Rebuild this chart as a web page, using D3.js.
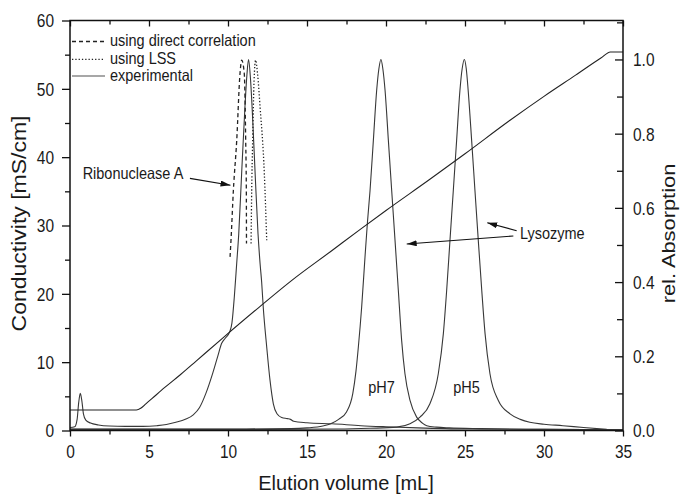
<!DOCTYPE html>
<html><head><meta charset="utf-8">
<script src="https://cdn.jsdelivr.net/npm/d3@7"></script>
<style>
body{margin:0;background:#fff}
svg{display:block}
text{font-family:"Liberation Sans", Arial, Helvetica, sans-serif; fill:#1a1a1a}
</style>
</head><body>
<svg id="chart" width="682" height="494"></svg>
<script>
// ---------- data ----------
// Conductivity gradient (left axis, mS/cm)
const gradVol  = [0, 4.2, 4.5, 4.8, 5.2, 6, 7, 8, 9.7, 12, 14, 16.5, 18.35, 20, 22.8, 25, 27.85, 30, 32, 33.6, 34.2, 35];
const gradCond = [3.0, 3.0, 3.3, 3.9, 4.7, 6.3, 8.2, 10.2, 13.6, 18.1, 21.9, 26.2, 29.4, 32.2, 36.8, 40.5, 45.4, 48.9, 52.0, 54.5, 55.4, 55.4];

// Ribonuclease A experimental run (right axis, rel. absorption)
const rnaseVol = [0, 0.3, 0.45, 0.55, 0.65, 0.75, 0.85, 1.0, 1.3, 1.8, 2.5, 3.5, 4.6, 5.5, 6.1, 6.7, 7.3, 7.8, 8.2, 8.6, 9.0, 9.35, 9.6, 9.85, 10.1, 10.25, 10.4, 10.55, 10.68, 10.86, 11.07, 11.2, 11.3, 11.42, 11.55, 11.72, 11.9, 12.03, 12.13, 12.23, 12.45, 12.66, 12.87, 13.1, 13.4, 13.75, 13.95, 14.15, 15.0, 16.6, 18.4, 20.0, 22.0, 25, 30, 35];
const rnaseAbs = [0.008, 0.010, 0.03, 0.075, 0.100, 0.08, 0.045, 0.028, 0.020, 0.015, 0.012, 0.011, 0.011, 0.013, 0.016, 0.022, 0.030, 0.042, 0.062, 0.10, 0.15, 0.20, 0.235, 0.25, 0.265, 0.29, 0.36, 0.45, 0.53, 0.69, 0.87, 0.96, 1.0, 0.95, 0.85, 0.69, 0.53, 0.45, 0.40, 0.333, 0.225, 0.135, 0.072, 0.045, 0.035, 0.032, 0.030, 0.025, 0.021, 0.018, 0.013, 0.010, 0.007, 0.004, 0.003, 0.002];

// Ribonuclease A peak, simulated using direct correlation (dashed)
const directVol = [10.13, 10.19, 10.34, 10.55, 10.76, 10.87, 11.03, 11.12, 11.16, 11.17];
const directAbs = [0.468, 0.513, 0.647, 0.78, 0.962, 0.998, 0.962, 0.78, 0.647, 0.504];

// Ribonuclease A peak, simulated using LSS (dotted)
const lssVol = [11.46, 11.5, 11.56, 11.65, 11.75, 11.87, 12.03, 12.3, 12.45];
const lssAbs = [0.504, 0.647, 0.78, 0.944, 0.998, 0.962, 0.872, 0.692, 0.513];

// Lysozyme pH 7 run
const ph7Vol = [0, 5, 10, 14, 15.0, 16.0, 16.5, 17.0, 17.5, 17.9, 18.1, 18.25, 18.46, 18.67, 18.82, 18.99, 19.2, 19.41, 19.55, 19.68, 19.8, 19.94, 20.15, 20.36, 20.57, 20.78, 20.99, 21.2, 21.52, 21.94, 22.3, 22.58, 23.2, 24, 26, 30, 35];
const ph7Abs = [0.004, 0.004, 0.004, 0.005, 0.007, 0.012, 0.018, 0.030, 0.050, 0.10, 0.16, 0.225, 0.333, 0.467, 0.558, 0.647, 0.782, 0.917, 0.975, 1.0, 0.975, 0.917, 0.782, 0.647, 0.513, 0.378, 0.243, 0.153, 0.081, 0.036, 0.020, 0.013, 0.009, 0.007, 0.005, 0.003, 0.002];

// Lysozyme pH 5 run
const ph5Vol = [0, 10, 17, 19, 20.68, 21.52, 22.15, 22.78, 23.31, 23.63, 23.84, 24.05, 24.26, 24.47, 24.68, 24.82, 24.96, 25.08, 25.2, 25.42, 25.63, 25.84, 26.06, 26.27, 26.58, 27.11, 27.85, 28.5, 29.1, 30, 31.2, 32.5, 33.97];
const ph5Abs = [0.003, 0.003, 0.004, 0.006, 0.009, 0.018, 0.036, 0.072, 0.153, 0.261, 0.378, 0.513, 0.647, 0.782, 0.917, 0.975, 1.0, 0.975, 0.917, 0.782, 0.647, 0.513, 0.378, 0.261, 0.153, 0.081, 0.045, 0.030, 0.022, 0.017, 0.013, 0.008, 0.003];

// Axis ticks
const xMajor = [0, 5, 10, 15, 20, 25, 30, 35];
const xMinor = [2.5, 7.5, 12.5, 17.5, 22.5, 27.5, 32.5];
const yLMajor = [0, 10, 20, 30, 40, 50, 60];
const yLMinor = [5, 15, 25, 35, 45, 55];
const yRMajor = [0, 0.2, 0.4, 0.6, 0.8, 1.0];
const yRMinor = [0.1, 0.3, 0.5, 0.7, 0.9, 1.1];

// Legend
const legendLabels = ["using direct correlation", "using LSS", "experimental"];

// Annotations (volume mL, conductivity mS/cm)
const annoTexts = [
  {t: "Ribonuclease A", v: 0.80, c: 36.8},
  {t: "Lysozyme", v: 28.48, c: 28.0},
  {t: "pH7", v: 18.88, c: 5.5},
  {t: "pH5", v: 24.26, c: 5.5}
];
const annoArrows = [
  {v1: 7.59, c1: 36.9, v2: 10.16, c2: 35.9},
  {v1: 28.27, c1: 29.24, v2: 26.41, c2: 30.41},
  {v1: 28.06, c1: 28.46, v2: 21.31, c2: 27.29}
];

// ---------- drawing ----------
const svg = d3.select("#chart");
const M = {l: 70, r: 623, t: 20.5, b: 430.5};
const SY = 1.15; // vertical stretch of the glyphs in the reference

const x  = d3.scaleLinear().domain([0, 35]).range([M.l, M.r]);
const yL = d3.scaleLinear().domain([0, 60]).range([M.b, M.t]);
const yR = d3.scaleLinear().domain([0, 1.105]).range([M.b, M.t]);

const defs = svg.append("defs");
defs.append("marker").attr("id", "ah").attr("viewBox", "0 0 10 6")
  .attr("refX", 10).attr("refY", 3).attr("markerWidth", 10).attr("markerHeight", 6)
  .attr("markerUnits", "userSpaceOnUse").attr("orient", "auto")
  .append("path").attr("d", "M0,0L10,3L0,6Z").attr("fill", "#111");

const lineR = d3.line().x(d => x(d[0])).y(d => yR(d[1])).curve(d3.curveMonotoneX);
const lineL = d3.line().x(d => x(d[0])).y(d => yL(d[1])).curve(d3.curveMonotoneX);

const plot = svg.append("g");
const curveColor = "#383838";
plot.append("path").datum(d3.zip(ph7Vol, ph7Abs)).attr("d", lineR)
  .attr("fill", "none").attr("stroke", curveColor).attr("stroke-width", 1.1);
plot.append("path").datum(d3.zip(ph5Vol, ph5Abs)).attr("d", lineR)
  .attr("fill", "none").attr("stroke", curveColor).attr("stroke-width", 1.1);
plot.append("path").datum(d3.zip(rnaseVol, rnaseAbs)).attr("d", lineR)
  .attr("fill", "none").attr("stroke", curveColor).attr("stroke-width", 1.1);
plot.append("path").datum(d3.zip(directVol, directAbs)).attr("d", lineR)
  .attr("fill", "none").attr("stroke", "#222").attr("stroke-width", 1.3).attr("stroke-dasharray", "4,3");
plot.append("path").datum(d3.zip(lssVol, lssAbs)).attr("d", lineR)
  .attr("fill", "none").attr("stroke", "#222").attr("stroke-width", 1.3).attr("stroke-dasharray", "1.3,2");
plot.append("path").datum(d3.zip(gradVol, gradCond)).attr("d", lineL)
  .attr("fill", "none").attr("stroke", "#222").attr("stroke-width", 1.1);

// ---------- axes ----------
function styleAxis(g) {
  g.select(".domain").remove();
  g.selectAll("line").attr("stroke", "#111").attr("stroke-width", 1.3);
  g.selectAll("text").style("font-size", "15.5px").attr("fill", "#1a1a1a");
}
// bottom
const gB = svg.append("g").attr("transform", `translate(0,${M.b})`)
  .call(d3.axisBottom(x).tickValues(xMajor).tickSize(6).tickFormat(d3.format("d")));
styleAxis(gB);
gB.selectAll("text").attr("y", null).attr("dy", null)
  .attr("transform", `translate(0,27.5) scale(1,${SY})`);
const gBm = svg.append("g").attr("transform", `translate(0,${M.b})`)
  .call(d3.axisBottom(x).tickValues(xMinor).tickSize(4).tickFormat(""));
styleAxis(gBm);
// top (inward ticks)
const gT = svg.append("g").attr("transform", `translate(0,${M.t})`)
  .call(d3.axisBottom(x).tickValues(xMajor).tickSize(6).tickFormat(""));
styleAxis(gT);
const gTm = svg.append("g").attr("transform", `translate(0,${M.t})`)
  .call(d3.axisBottom(x).tickValues(xMinor).tickSize(4).tickFormat(""));
styleAxis(gTm);
// left
const gL = svg.append("g").attr("transform", `translate(${M.l},0)`)
  .call(d3.axisLeft(yL).tickValues(yLMajor).tickSize(8).tickFormat(d3.format("d")));
styleAxis(gL);
gL.selectAll("text").attr("x", null).attr("dy", null)
  .attr("transform", `translate(-16,6.4) scale(1,${SY})`);
const gLm = svg.append("g").attr("transform", `translate(${M.l},0)`)
  .call(d3.axisLeft(yL).tickValues(yLMinor).tickSize(5).tickFormat(""));
styleAxis(gLm);
// right (inward ticks)
const gR = svg.append("g").attr("transform", `translate(${M.r},0)`)
  .call(d3.axisRight(yR).tickValues(yRMajor).tickSizeInner(-8).tickSizeOuter(0).tickFormat(d3.format(".1f")));
styleAxis(gR);
gR.selectAll("text").attr("x", null).attr("dy", null)
  .attr("transform", `translate(10,6.4) scale(1,${SY})`);
const gRm = svg.append("g").attr("transform", `translate(${M.r},0)`)
  .call(d3.axisRight(yR).tickValues(yRMinor.filter(v => v <= 1.105)).tickSizeInner(-6).tickSizeOuter(0).tickFormat(""));
styleAxis(gRm);

// frame
svg.append("rect").attr("x", M.l).attr("y", M.t).attr("width", M.r - M.l).attr("height", M.b - M.t)
  .attr("fill", "none").attr("stroke", "#111").attr("stroke-width", 1.5);

// axis titles
svg.append("text").attr("transform", `translate(${(M.l + M.r) / 2 - 0.5},490) scale(1,1.05)`)
  .attr("text-anchor", "middle").style("font-size", "20px").text("Elution volume [mL]");
svg.append("text").attr("transform", `translate(26,${(M.t + M.b) / 2 - 2}) scale(1,${SY}) rotate(-90)`)
  .attr("text-anchor", "middle").style("font-size", "20px").text("Conductivity [mS/cm]");
svg.append("text").attr("transform", `translate(675,${(M.t + M.b) / 2 + 8}) scale(1,${SY}) rotate(-90)`)
  .attr("text-anchor", "middle").style("font-size", "19px").text("rel. Absorption");

// legend
const legY = [41.5, 59.3, 76];
const legStyles = [
  {dash: "4,3", color: "#222", w: 1.3},
  {dash: "1.3,2", color: "#222", w: 1.3},
  {dash: null, color: "#8a8a8a", w: 1.4}
];
legendLabels.forEach((lab, i) => {
  svg.append("line").attr("x1", 72).attr("x2", 105).attr("y1", legY[i]).attr("y2", legY[i])
    .attr("stroke", legStyles[i].color).attr("stroke-width", legStyles[i].w)
    .attr("stroke-dasharray", legStyles[i].dash);
  svg.append("text").attr("transform", `translate(110,${legY[i] + 4.5}) scale(1,${SY})`)
    .style("font-size", "14.5px").text(lab);
});

// annotations
annoTexts.forEach(a => {
  svg.append("text").attr("transform", `translate(${x(a.v)},${yL(a.c)}) scale(1,${SY})`)
    .style("font-size", "14.5px").text(a.t);
});
annoArrows.forEach(a => {
  svg.append("line").attr("x1", x(a.v1)).attr("y1", yL(a.c1)).attr("x2", x(a.v2)).attr("y2", yL(a.c2))
    .attr("stroke", "#111").attr("stroke-width", 1.1).attr("marker-end", "url(#ah)");
});
</script>
</body></html>
